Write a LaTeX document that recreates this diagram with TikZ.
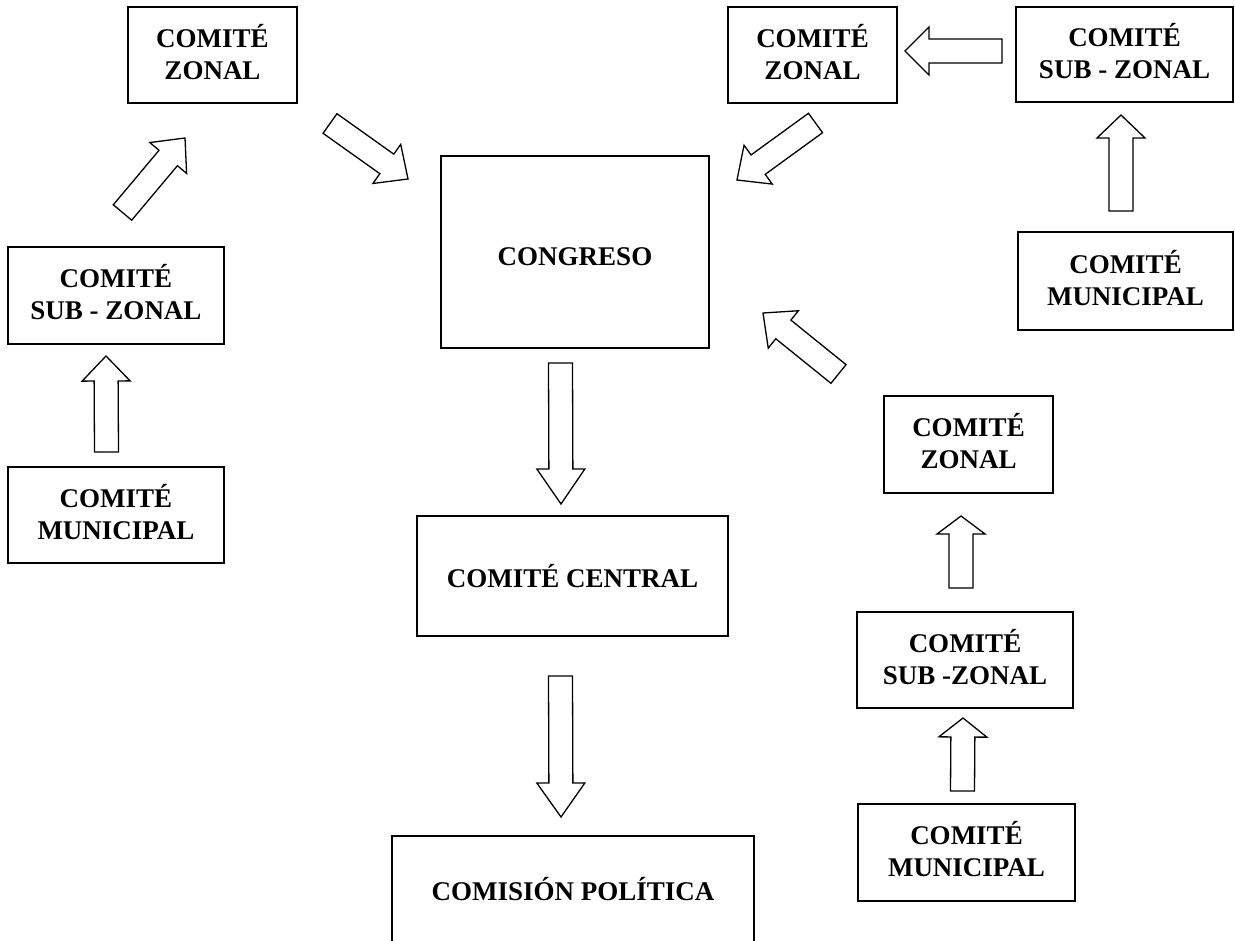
\documentclass[tikz,border=0pt]{standalone}
\usepackage{fontspec}
\setmainfont{Liberation Serif}
\usepackage{tikz}
\usetikzlibrary{calc}

% hollow block arrow: tail, tip, head length
\newcommand{\blockarrow}[3]{%
  \draw[barrow] let \p1=($(#2)-(#1)$), \n1={atan2(\y1,\x1)}, \n2={veclen(\x1,\y1)-#3} in
    ($(#1)+(\n1+90:12pt)$) -- ($(#1)+(\n1:\n2)+(\n1+90:12pt)$)
    -- ($(#1)+(\n1:\n2)+(\n1+90:24pt)$) -- (#2)
    -- ($(#1)+(\n1:\n2)+(\n1-90:24pt)$) -- ($(#1)+(\n1:\n2)+(\n1-90:12pt)$)
    -- ($(#1)+(\n1-90:12pt)$) -- cycle;}

\begin{document}
\begin{tikzpicture}[x=1pt,y=-1pt,
    box/.style={draw,line width=1.6pt,align=center,inner sep=0pt,
      font=\fontsize{27}{32}\selectfont\bfseries},
    twoline/.style={box,text depth=7pt},
    barrow/.style={draw,fill=white,line width=1.3pt,line join=miter}]
    \useasboundingbox (0,0) rectangle (1235,941);
    % Left branch
    \node[twoline,minimum width=169pt,minimum height=96pt] (zonalL) at (212.5,55) {COMITÉ\\ZONAL};
    \node[twoline,minimum width=216pt,minimum height=97pt] (subL) at (116,295.5) {COMITÉ\\SUB - ZONAL};
    \node[twoline,minimum width=216pt,minimum height=96pt] (munL) at (116,515) {COMITÉ\\MUNICIPAL};
    % Centre column
    \node[box,text height=28pt,minimum width=268pt,minimum height=192pt] (congreso) at (575,252) {CONGRESO};
    \node[box,minimum width=311pt,minimum height=120pt] (central) at (572.5,576) {COMITÉ CENTRAL};
    \node[box,draw=none,minimum width=360pt,minimum height=105pt,anchor=north] (comision) at (573,836) {COMISIÓN POLÍTICA};
    \draw[line width=1.6pt] (comision.west |- 0,941) |- (comision.north east) -- (comision.east |- 0,941);
    % Top right branch
    \node[twoline,minimum width=169pt,minimum height=96pt] (zonalT) at (812.5,55) {COMITÉ\\ZONAL};
    \node[twoline,minimum width=217pt,minimum height=95pt] (subT) at (1124.5,54.5) {COMITÉ\\SUB - ZONAL};
    \node[twoline,minimum width=215pt,minimum height=98pt] (munT) at (1125.5,281) {COMITÉ\\MUNICIPAL};
    % Lower right branch
    \node[twoline,minimum width=169pt,minimum height=97pt] (zonalR) at (968.5,444.5) {COMITÉ\\ZONAL};
    \node[twoline,minimum width=216pt,minimum height=96pt] (subR) at (965,660) {COMITÉ\\SUB -ZONAL};
    \node[twoline,minimum width=217pt,minimum height=97pt] (munR) at (966.5,852.5) {COMITÉ\\MUNICIPAL};

    % Arrow ends
    \coordinate (c1s) at (560.5,363);  \coordinate (c1e) at (561,504);
    \coordinate (c2s) at (560.5,676);  \coordinate (c2e) at (561,817);
    \coordinate (l1s) at (106.5,452);  \coordinate (l1e) at (106,356);
    \coordinate (l2s) at (122.5,212.5);\coordinate (l2e) at (185,138);
    \coordinate (l3s) at (330,123.5);  \coordinate (l3e) at (408,179);
    \coordinate (t1s) at (1121,211);   \coordinate (t1e) at (1121,115);
    \coordinate (t2s) at (1002,51);    \coordinate (t2e) at (905,51);
    \coordinate (t3s) at (815.5,123);  \coordinate (t3e) at (737,180);
    \coordinate (r1s) at (962.5,791);  \coordinate (r1e) at (963,718);
    \coordinate (r2s) at (961,588);    \coordinate (r2e) at (961,516);
    \coordinate (r3s) at (838.5,374);  \coordinate (r3e) at (763,313);
    \foreach \s/\e/\h in {c1s/c1e/35,c2s/c2e/34,l1s/l1e/25,l2s/l2e/26,l3s/l3e/26,
        t1s/t1e/23,t2s/t2e/24,t3s/t3e/26,r1s/r1e/19,r2s/r2e/18,r3s/r3e/26} {
      \blockarrow{\s}{\e}{\h}
    }
\end{tikzpicture}
\end{document}
